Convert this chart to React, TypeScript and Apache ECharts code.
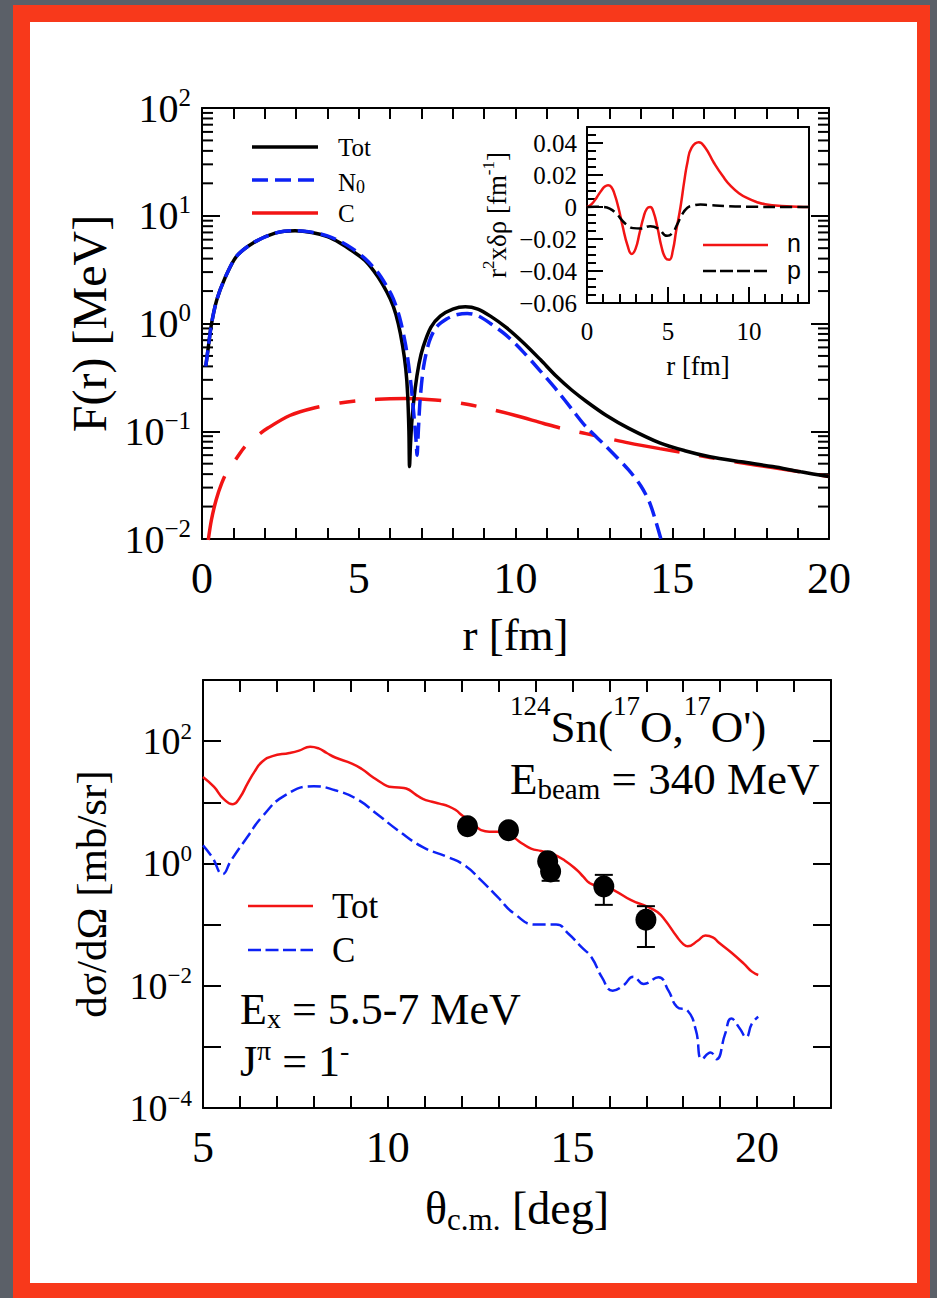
import { useEffect, useRef } from "react";
import * as echarts from "echarts";

const SERIF = '"Liberation Serif", "Times New Roman", serif';
const SANS = '"Liberation Sans", Arial, sans-serif';

const RED = "#f21414";
const BLUE = "#0d22f5";
const BLACK = "#000";

// ---------- upper panel: transition form factors F(r) [MeV] ----------
const totR = [0.12, 0.2, 0.3, 0.47, 0.73, 1.1, 1.63, 2.33, 2.97, 3.5, 4.0, 4.4, 4.8, 5.2, 5.6, 5.9, 6.1, 6.26, 6.4, 6.5, 6.56, 6.6, 6.62, 6.65, 6.7, 6.8, 6.92, 7.05, 7.3, 7.6, 8.0, 8.4, 8.8, 9.2, 9.7, 10.26, 10.8, 11.32, 11.8, 12.25, 12.9, 13.6, 14.6, 15.4, 16.2, 17.2, 18.2, 19.1, 20.0];
const totF = [0.4, 0.6, 0.98, 1.65, 2.63, 4.2, 5.6, 6.9, 7.26, 7.0, 6.4, 5.6, 4.7, 3.85, 2.75, 1.95, 1.45, 1.0, 0.62, 0.38, 0.22, 0.1, 0.047, 0.075, 0.13, 0.25, 0.42, 0.6, 0.92, 1.17, 1.36, 1.43, 1.36, 1.17, 0.92, 0.66, 0.46, 0.32, 0.24, 0.19, 0.14, 0.107, 0.078, 0.066, 0.058, 0.052, 0.047, 0.042, 0.038];

const n0R = [0.12, 0.2, 0.3, 0.47, 0.73, 1.1, 1.63, 2.33, 2.97, 3.5, 4.0, 4.4, 4.8, 5.2, 5.6, 5.9, 6.1, 6.3, 6.5, 6.65, 6.76, 6.83, 6.86, 6.9, 6.96, 7.07, 7.25, 7.47, 7.8, 8.1, 8.46, 8.8, 9.2, 9.7, 10.26, 10.8, 11.32, 11.8, 12.25, 12.9, 13.6, 14.0, 14.3, 14.66];
const n0F = [0.4, 0.6, 0.98, 1.65, 2.63, 4.2, 5.6, 6.9, 7.26, 7.05, 6.5, 5.8, 4.95, 4.0, 3.0, 2.2, 1.7, 1.15, 0.62, 0.3, 0.14, 0.08, 0.06, 0.1, 0.2, 0.4, 0.68, 0.92, 1.1, 1.2, 1.24, 1.18, 1.0, 0.78, 0.54, 0.36, 0.24, 0.16, 0.11, 0.072, 0.044, 0.031, 0.021, 0.0095];

const cR = [0.2, 0.3, 0.45, 0.63, 0.85, 1.1, 1.37, 1.7, 2.1, 2.8, 3.6, 4.4, 5.2, 6.0, 6.5, 7.2, 7.86, 8.5, 9.2, 10.0, 10.9, 11.6, 12.25, 13.0, 13.6, 14.6, 15.4, 16.2, 17.2, 18.2, 19.1, 20.0];
const cF = [0.0098, 0.015, 0.023, 0.033, 0.045, 0.056, 0.072, 0.088, 0.107, 0.14, 0.165, 0.183, 0.195, 0.2, 0.201, 0.197, 0.19, 0.177, 0.16, 0.14, 0.118, 0.104, 0.095, 0.085, 0.078, 0.069, 0.063, 0.057, 0.051, 0.046, 0.042, 0.038];

// minor ticks of the logarithmic F(r) axis
const topMinorTicks = [
  0.02, 0.03, 0.04, 0.05, 0.06, 0.07, 0.08, 0.09,
  0.2, 0.3, 0.4, 0.5, 0.6, 0.7, 0.8, 0.9,
  2, 3, 4, 5, 6, 7, 8, 9,
  20, 30, 40, 50, 60, 70, 80, 90,
];

// ---------- inset: transition densities r^2 x delta rho ----------
const nR = [0, 0.3, 0.6, 0.9, 1.1, 1.3, 1.5, 1.7, 1.93, 2.2, 2.5, 2.76, 3.0, 3.25, 3.5, 3.7, 3.9, 4.1, 4.35, 4.6, 4.85, 5.08, 5.3, 5.5, 5.77, 6.0, 6.2, 6.45, 6.9, 7.3, 7.84, 8.4, 8.88, 9.4, 9.9, 10.5, 11.0, 12.0, 13.0, 13.7];
const nV = [0, 0.002, 0.006, 0.0105, 0.0128, 0.0136, 0.0125, 0.008, 0.0, -0.012, -0.024, -0.0293, -0.026, -0.016, -0.006, -0.001, 0.0, -0.003, -0.013, -0.025, -0.032, -0.033, -0.027, -0.015, 0.0, 0.016, 0.028, 0.037, 0.0405, 0.037, 0.0275, 0.019, 0.013, 0.0085, 0.0055, 0.003, 0.0017, 0.0006, 0.0002, 0.0];

const pR = [0, 0.5, 1.0, 1.4, 1.8, 2.14, 2.5, 2.86, 3.3, 3.9, 4.4, 4.94, 5.25, 5.56, 5.85, 6.18, 6.5, 7.0, 7.5, 8.5, 10.0, 12.0, 13.7];
const pV = [0, 0.0002, 0.0, -0.001, -0.004, -0.008, -0.0115, -0.0132, -0.0135, -0.012, -0.0135, -0.018, -0.0165, -0.011, -0.005, -0.0006, 0.0008, 0.0015, 0.0012, 0.0006, 0.0002, 0.0, 0.0];

// ---------- lower panel: angular distribution ----------
const thTot = [5.0, 5.3, 5.55, 5.81, 6.0, 6.2, 6.4, 6.6, 6.88, 7.34, 7.6, 7.9, 8.13, 8.35, 8.58, 9.03, 9.3, 9.59, 9.85, 10.04, 10.3, 10.5, 10.75, 10.95, 11.2, 11.4, 11.65, 11.85, 12.0, 12.19, 12.4, 12.53, 12.75, 12.98, 13.2, 13.43, 13.65, 13.88, 14.15, 14.45, 14.79, 15.12, 15.3, 15.46, 15.65, 15.8, 16.14, 16.59, 17.04, 17.3, 17.5, 17.83, 18.0, 18.12, 18.4, 18.6, 18.8, 18.96, 19.3, 19.64, 19.86, 20.03];
const sgTot = [26, 17.8, 11.5, 9.3, 12, 20, 32, 46, 57, 64, 70, 81, 76, 64, 54, 43, 35, 26, 20.5, 18, 17.5, 16.8, 13.5, 11.4, 10.2, 9.5, 8.6, 7.4, 6.2, 5.1, 4.0, 3.5, 3.3, 3.3, 3.1, 2.6, 2.1, 1.75, 1.6, 1.44, 1.12, 0.78, 0.6, 0.48, 0.44, 0.44, 0.36, 0.25, 0.195, 0.16, 0.12, 0.063, 0.048, 0.044, 0.055, 0.066, 0.062, 0.051, 0.035, 0.023, 0.017, 0.015];

const thC = [5.0, 5.25, 5.53, 5.76, 6.2, 6.6, 7.22, 8.0, 8.58, 9.14, 9.7, 10.27, 10.95, 11.63, 12.08, 12.53, 12.98, 13.43, 14.0, 14.56, 14.9, 15.24, 15.52, 15.8, 16.09, 16.37, 16.65, 16.93, 17.33, 17.6, 17.83, 18.12, 18.34, 18.51, 18.74, 18.9, 19.13, 19.3, 19.53, 19.7, 19.86, 20.03];
const sgC = [1.97, 1.26, 0.67, 1.12, 2.7, 5.8, 13, 18.3, 15.7, 11.5, 6.5, 3.5, 1.85, 1.27, 0.93, 0.53, 0.28, 0.15, 0.1, 0.1, 0.07, 0.043, 0.029, 0.0137, 0.0083, 0.01, 0.014, 0.0107, 0.0138, 0.0083, 0.0045, 0.0039, 0.0019, 0.00063, 0.00081, 0.00063, 0.0016, 0.0029, 0.002, 0.00144, 0.0024, 0.0031];

const expTheta = [12.16, 13.27, 14.33, 14.41, 15.85, 16.99];
const expSigma = [4.07, 3.49, 1.09, 0.74, 0.42, 0.12];
const expLow = [3.6, 3.1, 0.96, 0.52, 0.21, 0.043];
const expHigh = [4.55, 3.9, 1.23, 0.8, 0.65, 0.2];

const pairs = (xs: number[], ys: number[]) => xs.map((x, i) => [x, ys[i]]);

const MINUS = "\u2212";
const powLabel = (v: number, evenOnly: boolean) => {
  const e = Math.round(Math.log10(v));
  if (evenOnly && e % 2 !== 0) return "";
  return `{b|10}{s|${e < 0 ? MINUS + -e : e}}`;
};

const axisLine = { show: true, onZero: false, lineStyle: { color: BLACK, width: 2 } };
const tick = (length: number) => ({ show: true, inside: true, length, lineStyle: { color: BLACK, width: 2 } });
const hidden = { show: false };
const noSplit = { show: false };

const serif = (fontSize: number) => ({ fontFamily: SERIF, fontSize, color: BLACK });

const powRich = (base: number, sup: number, lh: number) => ({
  b: { fontFamily: SERIF, fontSize: base, lineHeight: lh, color: BLACK },
  s: { fontFamily: SERIF, fontSize: sup, lineHeight: sup, verticalAlign: "top", color: BLACK },
});

const isMultiple = (v: number, step: number) => Math.abs(v / step - Math.round(v / step)) < 1e-6;

function buildOption(): any {
  const grid = [
    { left: 202, top: 108, width: 627, height: 431 },
    { left: 587, top: 127, width: 222, height: 176, show: true, backgroundColor: "#fff", borderWidth: 0 },
    { left: 203, top: 680, width: 628, height: 428 },
  ];

  const xAxis = [
    // 0: F(r) panel, bottom
    {
      type: "value", gridIndex: 0, min: 0, max: 20, interval: 1, position: "bottom",
      axisLine, axisTick: tick(11), splitLine: noSplit,
      axisLabel: { ...serif(44), margin: 17, formatter: (v: number) => (isMultiple(v, 5) ? String(v) : "") },
      name: "r [fm]", nameLocation: "middle", nameGap: 73, nameTextStyle: serif(45),
    },
    // 1: F(r) panel, top mirror
    { type: "value", gridIndex: 0, min: 0, max: 20, interval: 1, position: "top", axisLine, axisTick: tick(11), splitLine: noSplit, axisLabel: hidden },
    // 2: inset, major ticks and labels
    {
      type: "value", gridIndex: 1, min: 0, max: 13.7, interval: 5, position: "bottom",
      axisLine, axisTick: tick(16), splitLine: noSplit,
      axisLabel: { ...serif(25), margin: 16, formatter: (v: number) => (isMultiple(v, 5) ? String(v) : "") },
      name: "r [fm]", nameLocation: "middle", nameGap: 49, nameTextStyle: serif(27),
    },
    // 3: inset, minor ticks
    { type: "value", gridIndex: 1, min: 0, max: 13.7, interval: 1, position: "bottom", axisLine: { show: false, onZero: false }, axisTick: tick(9), splitLine: noSplit, axisLabel: hidden },
    // 4: inset top frame
    { type: "value", gridIndex: 1, min: 0, max: 13.7, position: "top", axisLine, axisTick: hidden, splitLine: noSplit, axisLabel: hidden },
    // 5: cross-section panel, bottom
    {
      type: "value", gridIndex: 2, min: 5, max: 22, interval: 1, position: "bottom",
      axisLine, axisTick: tick(12), splitLine: noSplit,
      axisLabel: { ...serif(44), margin: 17, formatter: (v: number) => (isMultiple(v, 5) ? String(v) : "") },
      name: "\u03b8{sub|c.m.} [deg]", nameLocation: "middle", nameGap: 73,
      nameTextStyle: {
        ...serif(46), lineHeight: 54,
        rich: { sub: { fontFamily: SERIF, fontSize: 31, lineHeight: 31, verticalAlign: "bottom", color: BLACK } },
      },
    },
    // 6: cross-section panel, top mirror
    { type: "value", gridIndex: 2, min: 5, max: 22, interval: 1, position: "top", axisLine, axisTick: tick(12), splitLine: noSplit, axisLabel: hidden },
  ];

  const yAxis = [
    // 0: F(r), left
    {
      type: "log", logBase: 10, gridIndex: 0, min: 0.01, max: 100, position: "left",
      axisLine, axisTick: tick(18), splitLine: noSplit,
      axisLabel: { margin: 11, formatter: (v: number) => powLabel(v, false), rich: powRich(40, 25, 47) },
      name: "F(r) [MeV]", nameLocation: "middle", nameGap: 88, nameTextStyle: serif(48),
    },
    // 1: F(r), right mirror
    { type: "log", logBase: 10, gridIndex: 0, min: 0.01, max: 100, position: "right", axisLine, axisTick: tick(18), splitLine: noSplit, axisLabel: hidden },
    // 2: inset, major ticks and labels
    {
      type: "value", gridIndex: 1, min: -0.06, max: 0.05, interval: 0.02, position: "left",
      axisLine, axisTick: tick(16), splitLine: noSplit,
      axisLabel: {
        ...serif(25), margin: 10,
        formatter: (v: number) => {
          if (!isMultiple(v, 0.02)) return "";
          if (Math.abs(v) < 1e-9) return "0";
          return (v < 0 ? MINUS : "") + Math.abs(v).toFixed(2);
        },
      },
      name: "r{sup|2}x\u03b4\u03c1 [fm{sup|-1}]", nameLocation: "middle", nameGap: 73,
      nameTextStyle: {
        ...serif(27), lineHeight: 34,
        rich: { sup: { fontFamily: SERIF, fontSize: 17, lineHeight: 17, verticalAlign: "top", color: BLACK } },
      },
    },
    // 3: inset, minor ticks
    { type: "value", gridIndex: 1, min: -0.06, max: 0.05, interval: 0.005, position: "left", axisLine: { show: false, onZero: false }, axisTick: tick(9), splitLine: noSplit, axisLabel: hidden },
    // 4: inset right frame
    { type: "value", gridIndex: 1, min: -0.06, max: 0.05, position: "right", axisLine, axisTick: hidden, splitLine: noSplit, axisLabel: hidden },
    // 5: cross section, left
    {
      type: "log", logBase: 10, gridIndex: 2, min: 1e-4, max: 1e3, position: "left",
      axisLine, axisTick: tick(18), splitLine: noSplit,
      axisLabel: { margin: 11, formatter: (v: number) => powLabel(v, true), rich: powRich(38, 23, 43) },
      name: "d\u03c3/d\u03a9 [mb/sr]", nameLocation: "middle", nameGap: 90, nameTextStyle: serif(43),
    },
    // 6: cross section, right mirror
    { type: "log", logBase: 10, gridIndex: 2, min: 1e-4, max: 1e3, position: "right", axisLine, axisTick: tick(18), splitLine: noSplit, axisLabel: hidden },
  ];

  const series: any[] = [
    // log minor ticks on both sides of the F(r) panel
    {
      type: "custom", xAxisIndex: 0, yAxisIndex: 0, silent: true, z: 1,
      data: topMinorTicks.map((v) => [1, v]),
      encode: { x: 0, y: 1 },
      renderItem: (params: any, api: any) => {
        const cs = params.coordSys;
        const y = api.coord([api.value(0), api.value(1)])[1];
        const st = { stroke: BLACK, lineWidth: 2 };
        return {
          type: "group",
          children: [
            { type: "line", shape: { x1: cs.x, y1: y, x2: cs.x + 11, y2: y }, style: st },
            { type: "line", shape: { x1: cs.x + cs.width - 11, y1: y, x2: cs.x + cs.width, y2: y }, style: st },
          ],
        };
      },
    },
    {
      name: "C", type: "line", xAxisIndex: 0, yAxisIndex: 0, data: pairs(cR, cF),
      showSymbol: false, smooth: 0.3, z: 3,
      lineStyle: { color: RED, width: 3.5, type: [66, 20, 16, 20] },
    },
    {
      name: "Tot", type: "line", xAxisIndex: 0, yAxisIndex: 0, data: pairs(totR, totF),
      showSymbol: false, smooth: 0.3, z: 4,
      lineStyle: { color: BLACK, width: 3.5 },
    },
    {
      name: "N0", type: "line", xAxisIndex: 0, yAxisIndex: 0, data: pairs(n0R, n0F),
      showSymbol: false, smooth: 0.3, z: 5,
      lineStyle: { color: BLUE, width: 3.5, type: [16, 7] },
    },
    // inset
    {
      name: "n", type: "line", xAxisIndex: 2, yAxisIndex: 2, data: pairs(nR, nV),
      showSymbol: false, smooth: true, z: 6,
      lineStyle: { color: RED, width: 2.5 },
    },
    {
      name: "p", type: "line", xAxisIndex: 2, yAxisIndex: 2, data: pairs(pR, pV),
      showSymbol: false, smooth: true, z: 7,
      lineStyle: { color: BLACK, width: 2.5, type: [12, 5] },
    },
    // cross sections
    {
      name: "Tot", type: "line", xAxisIndex: 5, yAxisIndex: 5, data: pairs(thTot, sgTot),
      showSymbol: false, smooth: true, z: 3,
      lineStyle: { color: RED, width: 2.5 },
    },
    {
      name: "C", type: "line", xAxisIndex: 5, yAxisIndex: 5, data: pairs(thC, sgC),
      showSymbol: false, smooth: true, z: 3,
      lineStyle: { color: BLUE, width: 2.5, type: [13, 5] },
    },
    {
      name: "error", type: "custom", xAxisIndex: 5, yAxisIndex: 5, z: 8, silent: true,
      data: expTheta.map((t, i) => [t, expLow[i], expHigh[i]]),
      encode: { x: 0, y: [1, 2] },
      renderItem: (_params: any, api: any) => {
        const a = api.coord([api.value(0), api.value(1)]);
        const b = api.coord([api.value(0), api.value(2)]);
        const w = 9;
        const st = { stroke: BLACK, lineWidth: 2 };
        return {
          type: "group",
          children: [
            { type: "line", shape: { x1: a[0], y1: a[1], x2: b[0], y2: b[1] }, style: st },
            { type: "line", shape: { x1: a[0] - w, y1: a[1], x2: a[0] + w, y2: a[1] }, style: st },
            { type: "line", shape: { x1: b[0] - w, y1: b[1], x2: b[0] + w, y2: b[1] }, style: st },
          ],
        };
      },
    },
    {
      name: "data", type: "scatter", xAxisIndex: 5, yAxisIndex: 5, z: 9,
      data: pairs(expTheta, expSigma), symbol: "circle", symbolSize: [21, 22],
      itemStyle: { color: BLACK, opacity: 1 },
    },
  ];

  const legendLine = (x1: number, x2: number, y: number, color: string, width: number, dash?: number[]) => ({
    type: "line", z: 20,
    shape: { x1, y1: y, x2, y2: y },
    style: { stroke: color, lineWidth: width, lineDash: dash },
  });
  const label = (x: number, y: number, text: string, fontSize: number, extra: any = {}) => ({
    type: "text", x, y, z: 20,
    style: { text, fill: BLACK, fontFamily: SERIF, fontSize, align: "left", verticalAlign: "middle", ...extra },
  });

  const graphic = [
    // F(r) legend
    legendLine(252, 318, 147, BLACK, 3.5),
    label(338, 147, "Tot", 25),
    legendLine(252, 318, 180, BLUE, 3.5, [16, 7]),
    label(338, 182, "N{sub|0}", 25, {
      lineHeight: 28,
      rich: { sub: { fontFamily: SERIF, fontSize: 18, lineHeight: 18, verticalAlign: "bottom", fill: BLACK } },
    }),
    legendLine(252, 318, 213, RED, 3.5, [66, 20, 16, 20]),
    label(338, 213, "C", 25),
    // inset legend
    legendLine(703, 768, 245, RED, 2.5),
    label(787, 243, "n", 25, { fontFamily: SANS, lineHeight: 20 }),
    legendLine(703, 768, 271, BLACK, 2.5, [13, 4]),
    label(787, 270, "p", 25, { fontFamily: SANS, lineHeight: 20 }),
    // cross-section legend
    legendLine(248, 313, 906, RED, 2.5),
    label(332, 906, "Tot", 35),
    legendLine(248, 313, 950, BLUE, 2.5, [13, 4.5]),
    label(332, 950, "C", 35),
    // reaction and excitation labels
    label(510, 727, "{sup|124}Sn({sup|17}O,{sup|17}O')", 45, {
      lineHeight: 69,
      rich: { sup: { fontFamily: SERIF, fontSize: 27, lineHeight: 27, verticalAlign: "top", fill: BLACK } },
    }),
    label(510, 779, "E{sub|beam} = 340 MeV", 45, {
      lineHeight: 48,
      rich: { sub: { fontFamily: SERIF, fontSize: 29, lineHeight: 29, verticalAlign: "bottom", fill: BLACK } },
    }),
    label(240, 1009, "E{sub|x} = 5.5-7 MeV", 44, {
      lineHeight: 46,
      rich: { sub: { fontFamily: SERIF, fontSize: 28, lineHeight: 28, verticalAlign: "bottom", fill: BLACK } },
    }),
    label(240, 1061, "J{sup|\u03c0} = 1{sup|-}", 44, {
      lineHeight: 50,
      rich: { sup: { fontFamily: SERIF, fontSize: 28, lineHeight: 28, verticalAlign: "top", fill: BLACK } },
    }),
  ];

  return {
    animation: false,
    backgroundColor: "transparent",
    textStyle: { fontFamily: SERIF },
    grid,
    xAxis,
    yAxis,
    series,
    graphic,
  };
}

export default function App() {
  const ref = useRef<HTMLDivElement>(null);

  useEffect(() => {
    if (!ref.current) return;
    const chart = echarts.init(ref.current, undefined, { renderer: "svg" });
    chart.setOption(buildOption());
    return () => chart.dispose();
  }, []);

  return (
    <div style={{ position: "fixed", left: 0, top: 0, width: 937, height: 1298, background: "#5b6068", overflow: "hidden" }}>
      <div style={{ position: "absolute", left: 13, top: 5, width: 917, height: 1293, background: "#f8391b" }} />
      <div style={{ position: "absolute", left: 30, top: 22, width: 887, height: 1261, background: "#ffffff" }} />
      <div ref={ref} style={{ position: "absolute", left: 0, top: 0, width: 937, height: 1298 }} />
    </div>
  );
}
